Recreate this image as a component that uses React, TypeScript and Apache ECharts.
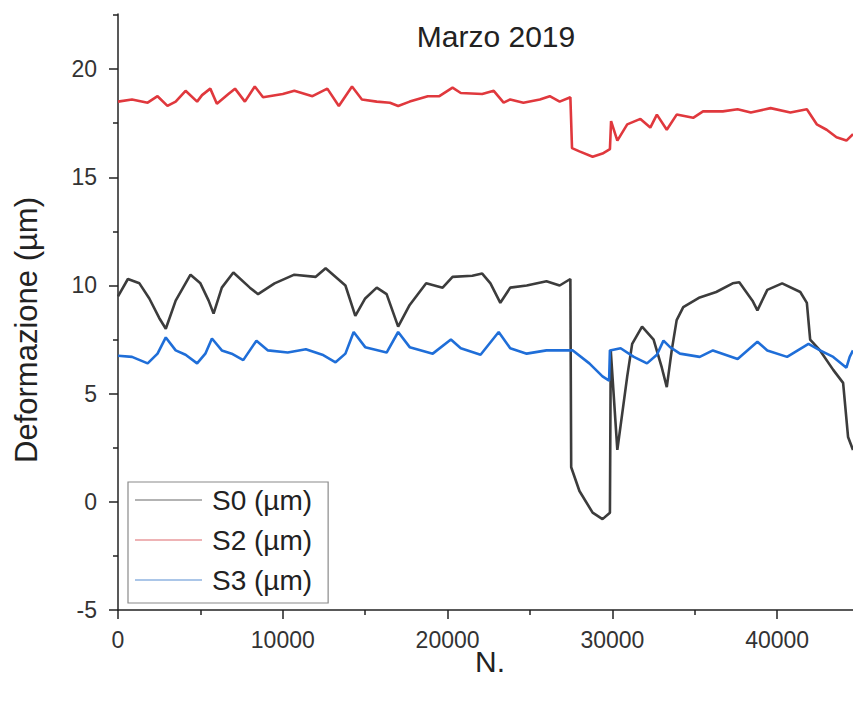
import React, { useEffect, useRef } from "react";
import * as echarts from "echarts";

const TITLE = "Marzo 2019";
const X_NAME = "N.";
const Y_NAME = "Deformazione (µm)";
const SERIES_NAMES = ["S0 (µm)", "S2 (µm)", "S3 (µm)"];
const X_TICKS = [0, 10000, 20000, 30000, 40000];
const Y_TICKS = [-5, 0, 5, 10, 15, 20];

const S0: [number, number][] = [
  [0, 9.5], [600, 10.3], [1300, 10.1], [1900, 9.4], [2500, 8.5], [2900, 8.0], [3500, 9.3],
  [4400, 10.5], [5000, 10.1], [5500, 9.3], [5800, 8.7], [6300, 9.9], [7000, 10.6], [8000, 9.9],
  [8500, 9.6], [9500, 10.1], [10700, 10.5], [12000, 10.4], [12600, 10.8], [13800, 10.0],
  [14400, 8.6], [15000, 9.4], [15700, 9.9], [16300, 9.6], [17000, 8.1], [17700, 9.1],
  [18700, 10.1], [19700, 9.9], [20300, 10.4], [21500, 10.45], [22100, 10.55], [22600, 10.1],
  [23200, 9.2], [23800, 9.9], [24800, 10.0], [26000, 10.2], [26800, 10.0], [27450, 10.3],
  [27500, 1.6], [28000, 0.5], [28800, -0.5], [29400, -0.8], [29850, -0.5], [29900, 7.0],
  [30300, 2.4], [30900, 5.8], [31200, 7.3], [31800, 8.1], [32500, 7.5], [33000, 6.2],
  [33300, 5.3], [33600, 7.0], [33900, 8.4], [34300, 9.0], [35300, 9.45], [36300, 9.7],
  [37300, 10.1], [37700, 10.15], [38500, 9.3], [38800, 8.85], [39400, 9.8], [40300, 10.1],
  [41400, 9.7], [41800, 9.2], [42000, 7.5], [42600, 7.0], [43400, 6.1], [44000, 5.5],
  [44300, 3.0], [44600, 2.4],
];

const S2: [number, number][] = [
  [0, 18.5], [850, 18.6], [1800, 18.45], [2400, 18.75], [3000, 18.3], [3500, 18.5], [4100, 19.0],
  [4800, 18.5], [5100, 18.8], [5600, 19.1], [6000, 18.4], [6700, 18.85], [7100, 19.1], [7700, 18.5],
  [8300, 19.2], [8800, 18.7], [10000, 18.85], [10700, 19.0], [11800, 18.75], [12700, 19.1],
  [13400, 18.3], [14200, 19.2], [14800, 18.6], [15700, 18.5], [16500, 18.45], [17000, 18.3],
  [17700, 18.5], [18800, 18.75], [19500, 18.75], [20300, 19.15], [20800, 18.9], [22100, 18.85],
  [22800, 19.0], [23400, 18.45], [23800, 18.6], [24600, 18.45], [25600, 18.6], [26200, 18.75],
  [26800, 18.5], [27450, 18.7], [27550, 16.35], [28000, 16.2], [28800, 15.95], [29400, 16.1],
  [29850, 16.3], [29920, 17.6], [30300, 16.7], [30900, 17.45], [31700, 17.7], [32300, 17.3],
  [32700, 17.9], [33300, 17.2], [33900, 17.9], [34900, 17.75], [35500, 18.05], [36700, 18.05],
  [37600, 18.15], [38400, 18.0], [39600, 18.2], [40800, 18.0], [41800, 18.15], [42400, 17.45],
  [43000, 17.2], [43600, 16.85], [44200, 16.7], [44600, 17.0],
];

const S3: [number, number][] = [
  [0, 6.75], [850, 6.7], [1800, 6.4], [2400, 6.85], [2900, 7.6], [3500, 7.0], [4100, 6.8],
  [4800, 6.4], [5300, 6.85], [5700, 7.55], [6300, 7.0], [6900, 6.85], [7600, 6.55], [8400, 7.45],
  [9100, 7.0], [10300, 6.9], [11400, 7.05], [12400, 6.8], [13200, 6.45], [13800, 6.85],
  [14300, 7.85], [15000, 7.15], [16300, 6.9], [17000, 7.85], [17700, 7.15], [19100, 6.85],
  [20200, 7.5], [20800, 7.1], [22000, 6.8], [23100, 7.85], [23800, 7.1], [24800, 6.85],
  [26000, 7.0], [27600, 7.0], [28600, 6.4], [29400, 5.8], [29800, 5.6], [29850, 7.0],
  [30500, 7.1], [31300, 6.7], [32100, 6.4], [32700, 6.8], [33100, 7.45], [33500, 7.15],
  [34100, 6.85], [35300, 6.7], [36100, 7.0], [37600, 6.6], [38800, 7.4], [39400, 7.0],
  [40600, 6.7], [41900, 7.3], [42600, 7.0], [43400, 6.7], [44200, 6.2], [44400, 6.7],
  [44600, 7.0],
];

const COLORS = ["#3c3c3c", "#e0383d", "#1f6ed8"];
const LEGEND_COLORS = ["#9a9a9a", "#e99a9c", "#8fb3e0"];
const FONT = "'Liberation Sans', Arial, Helvetica, sans-serif";

export default function App() {
  const ref = useRef<HTMLDivElement>(null);
  useEffect(() => {
    if (!ref.current) return;
    const chart = echarts.init(ref.current, null, { renderer: "svg" });
    const datasets = [S0, S2, S3];
    chart.setOption({
      animation: false,
      backgroundColor: "#ffffff",
      textStyle: { fontFamily: FONT },
      title: {
        text: TITLE,
        left: 491,
        top: 16,
        textAlign: "center",
        textStyle: { fontFamily: FONT, fontSize: 30, fontWeight: "normal", color: "#222" },
      },
      graphic: [
        {
          type: "text",
          x: 26,
          y: 330,
          rotation: Math.PI / 2,
          style: {
            text: Y_NAME,
            fontFamily: FONT,
            fontSize: 31,
            fill: "#222",
            textAlign: "center",
            textVerticalAlign: "middle",
          },
        },
        {
          type: "text",
          x: 490,
          y: 661,
          style: {
            text: X_NAME,
            fontFamily: FONT,
            fontSize: 30,
            fill: "#222",
            textAlign: "center",
            textVerticalAlign: "middle",
          },
        },
      ],
      grid: { left: 118, right: 0, top: 14, bottom: 94, containLabel: false },
      legend: {
        orient: "vertical",
        left: 128,
        top: 482,
        padding: [3, 16, 8, 7],
        itemGap: 10,
        itemWidth: 67,
        itemHeight: 1.5,
        borderColor: "#8a8a8a",
        borderWidth: 1.2,
        backgroundColor: "#ffffff",
        textStyle: { fontFamily: FONT, fontSize: 28, color: "#222", lineHeight: 30, padding: [0, 0, 0, 5] },
        data: SERIES_NAMES.map((n, i) => ({ name: n, icon: "rect", itemStyle: { color: LEGEND_COLORS[i] } })),
      },
      xAxis: {
        type: "value",
        min: 0,
        max: 44600,
        interval: 10000,
        axisLine: { show: true, onZero: false, lineStyle: { color: "#222", width: 1.5 } },
        axisTick: { show: true, inside: false, length: 9, customValues: X_TICKS, lineStyle: { color: "#222", width: 1.5 } },
        minorTick: { show: true, splitNumber: 2, length: 5, lineStyle: { color: "#222", width: 1.5 } },
        axisLabel: {
          customValues: X_TICKS,
          margin: 18,
          fontFamily: FONT,
          fontSize: 23,
          color: "#333",
          formatter: (v: number) => String(v),
        },
        splitLine: { show: false },
      },
      yAxis: {
        type: "value",
        min: -5,
        max: 22.55,
        interval: 5,
        axisLine: { show: true, onZero: false, lineStyle: { color: "#222", width: 1.5 } },
        axisTick: { show: true, inside: false, length: 9, customValues: Y_TICKS, lineStyle: { color: "#222", width: 1.5 } },
        minorTick: { show: true, splitNumber: 2, length: 5, lineStyle: { color: "#222", width: 1.5 } },
        axisLabel: {
          customValues: Y_TICKS,
          margin: 21,
          fontFamily: FONT,
          fontSize: 23,
          color: "#333",
          formatter: (v: number) => String(v),
        },
        splitLine: { show: false },
      },
      series: SERIES_NAMES.map((n, i) => ({
        name: n,
        type: "line",
        data: datasets[i],
        showSymbol: false,
        symbol: "none",
        color: COLORS[i],
        lineStyle: { color: COLORS[i], width: 2.6 },
        clip: true,
      })),
    });
    return () => chart.dispose();
  }, []);
  return <div ref={ref} style={{ width: 853, height: 704, position: "absolute", left: 0, top: 0 }} />;
}
